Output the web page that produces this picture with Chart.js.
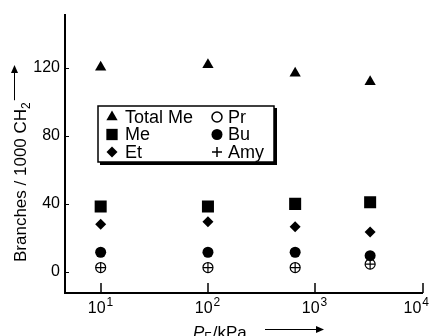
<!DOCTYPE html>
<html>
<head>
<meta charset="utf-8">
<script src="https://cdn.jsdelivr.net/npm/chart.js@4.4.1/dist/chart.umd.min.js"></script>
<style>
  html, body { margin: 0; padding: 0; background: #fff; }
  #wrap { width: 431px; height: 336px; position: relative; }
</style>
</head>
<body>
<div id="wrap"><canvas id="myChart" width="431" height="336"></canvas></div>
<script>
// pressures (kPa) and branch counts per 1000 CH2
var pressures = [10, 100, 650, 3250];
var totalMe = [120.5, 122, 117, 112];
var me = [38.5, 38.5, 40, 41];
var et = [28, 29.5, 26.5, 23.5];
var bu = [11.5, 11.5, 11.5, 9.5];
var pr = [2.5, 2.5, 2.5, 4.5];
var amy = [2.5, 2.5, 2.5, 4.5];
var yTicks = [0, 40, 80, 120];
var xTicks = [10, 100, 1000, 10000];

var FONT = "'Liberation Sans', Arial, Helvetica, sans-serif";

function pts(ys) {
    return pressures.map(function (p, i) { return { x: p, y: ys[i] }; });
}

// series: label, style, radius, filled, legend radius
var series = [
    { label: 'Total Me', data: totalMe, style: 'triangle', r: 6.5, fill: true, lr: 6.5 },
    { label: 'Me', data: me, style: 'rect', r: 8.5, fill: true, lr: 8 },
    { label: 'Et', data: et, style: 'rectRot', r: 5.5, fill: true, lr: 5.5 },
    { label: 'Pr', data: pr, style: 'circle', r: 5, fill: false, lr: 5 },
    { label: 'Bu', data: bu, style: 'circle', r: 5.5, fill: true, lr: 5.5 },
    { label: 'Amy', data: amy, style: 'cross', r: 5, fill: false, lr: 5 }
];

var datasets = series.map(function (s) {
    return {
        label: s.label,
        data: pts(s.data),
        pointStyle: s.style,
        pointRadius: s.r,
        pointBackgroundColor: s.fill ? '#000' : 'rgba(0,0,0,0)',
        pointBorderColor: '#000',
        pointBorderWidth: s.fill ? 0 : 1.2,
        showLine: false
    };
});

// Extras: inner ticks, x labels with exponents, axis titles, legend box
var extras = {
    id: 'extras',
    afterDraw: function (chart) {
        var ctx = chart.ctx;
        var xs = chart.scales.x, ys = chart.scales.y;
        var area = chart.chartArea;
        ctx.save();
        ctx.strokeStyle = '#000';
        ctx.fillStyle = '#000';

        // y ticks (inward)
        ctx.lineWidth = 1;
        yTicks.forEach(function (v) {
            var y = Math.round(ys.getPixelForValue(v)) + 0.5;
            ctx.beginPath();
            ctx.moveTo(area.left, y);
            ctx.lineTo(area.left + 4, y);
            ctx.stroke();
        });

        // x ticks (inward) and labels
        ctx.lineWidth = 1.5;
        xTicks.forEach(function (v, i) {
            var x = Math.round(xs.getPixelForValue(v));
            ctx.beginPath();
            ctx.moveTo(x, area.bottom);
            ctx.lineTo(x, area.bottom - 10);
            ctx.stroke();

            ctx.font = '16px ' + FONT;
            var base = ctx.measureText('10').width;
            ctx.font = '12px ' + FONT;
            var sup = String(i + 1);
            var ew = ctx.measureText(sup).width;
            var x0 = x - (base + ew) / 2 - 1;
            if (x0 + base + ew + 2 > 430) x0 = 429 - base - ew - 1;
            ctx.textAlign = 'left';
            ctx.textBaseline = 'alphabetic';
            ctx.font = '16px ' + FONT;
            ctx.fillText('10', x0, 313);
            ctx.font = '12px ' + FONT;
            ctx.fillText(sup, x0 + base + 1, 306);
        });

        // x title: P_F/kPa with arrow
        ctx.font = 'italic 17px ' + FONT;
        ctx.textAlign = 'left';
        var tx = 193;
        ctx.fillText('P', tx, 338);
        tx += ctx.measureText('P').width;
        ctx.font = '12px ' + FONT;
        ctx.fillText('F', tx, 341);
        tx += ctx.measureText('F').width + 1;
        ctx.font = '17px ' + FONT;
        ctx.fillText('/kPa', tx, 338);

        ctx.lineWidth = 1;
        ctx.beginPath();
        ctx.moveTo(265, 329.5);
        ctx.lineTo(318, 329.5);
        ctx.stroke();
        ctx.beginPath();
        ctx.moveTo(324, 329.5);
        ctx.lineTo(316, 326);
        ctx.lineTo(316, 333);
        ctx.closePath();
        ctx.fill();

        // y title, rotated, with arrow
        ctx.save();
        ctx.translate(26, 262);
        ctx.rotate(-Math.PI / 2);
        ctx.textAlign = 'left';
        ctx.font = '17px ' + FONT;
        var s1 = 'Branches / 1000 CH';
        ctx.fillText(s1, 0, 0);
        var w1 = ctx.measureText(s1).width;
        ctx.font = '12px ' + FONT;
        ctx.fillText('2', w1, 4);
        var w2 = w1 + ctx.measureText('2').width + 2;
        ctx.lineWidth = 1;
        ctx.beginPath();
        ctx.moveTo(w2, -11.5);
        ctx.lineTo(190, -11.5);
        ctx.stroke();
        ctx.beginPath();
        ctx.moveTo(197, -11.5);
        ctx.lineTo(189, -15);
        ctx.lineTo(189, -8);
        ctx.closePath();
        ctx.fill();
        ctx.restore();

        // legend box with shadow
        var bx = 98, by = 106, bw = 176, bh = 56;
        ctx.fillStyle = '#000';
        ctx.fillRect(bx + 2, by + 2, bw + 1, bh + 1);
        ctx.fillStyle = '#fff';
        ctx.fillRect(bx, by, bw, bh);
        ctx.strokeStyle = '#000';
        ctx.lineWidth = 1.5;
        ctx.strokeRect(bx, by, bw, bh);

        var rows = [117, 134.5, 152];
        var cols = [{ mx: 112, tx: 125 }, { mx: 217, tx: 228 }];
        var place = [[0, 0], [1, 0], [2, 0], [0, 1], [1, 1], [2, 1]];
        ctx.font = '18px ' + FONT;
        ctx.textBaseline = 'middle';
        series.forEach(function (s, n) {
            var c = cols[place[n][1]];
            var y = rows[place[n][0]];
            ctx.fillStyle = s.fill ? '#000' : 'rgba(0,0,0,0)';
            ctx.strokeStyle = '#000';
            Chart.helpers.drawPoint(ctx, {
                pointStyle: s.style, radius: s.lr, rotation: 0,
                borderWidth: s.fill ? 0 : 1
            }, c.mx, y);
            ctx.fillStyle = '#000';
            ctx.fillText(s.label, c.tx, y + 1);
        });
        ctx.restore();
    }
};

var chartConfig = {
    type: 'scatter',
    data: { datasets: datasets },
    options: {
        responsive: false,
        animation: false,
        layout: { padding: { top: 14, right: 8, left: 0, bottom: 0 } },
        plugins: {
            legend: { display: false },
            tooltip: { enabled: false }
        },
        scales: {
            x: {
                type: 'logarithmic',
                min: 4.65,
                max: 10000,
                grid: { display: false, drawTicks: false },
                border: { display: true, color: '#000', width: 2 },
                ticks: { display: false },
                afterFit: function (s) { s.height = 43; }
            },
            y: {
                type: 'linear',
                min: -12.5,
                max: 151.5,
                grid: { display: false, drawTicks: false },
                border: { display: true, color: '#000', width: 2 },
                ticks: {
                    color: '#000',
                    padding: 5,
                    font: { family: FONT, size: 16 }
                },
                afterBuildTicks: function (s) {
                    s.ticks = yTicks.map(function (v) { return { value: v }; });
                },
                afterFit: function (s) { s.width = 65; }
            }
        }
    },
    plugins: [extras]
};

var myChart = new Chart(document.getElementById('myChart'), chartConfig);
</script>
</body>
</html>
